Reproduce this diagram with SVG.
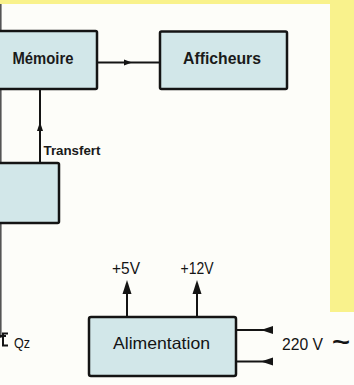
<svg xmlns="http://www.w3.org/2000/svg" width="354" height="385" viewBox="0 0 354 385">
  <defs>
    <style>
      .box { fill: #d2e7e9; stroke: #141414; stroke-width: 2.5; }
      .wire { fill: none; stroke: #141414; stroke-width: 2; }
      .head { fill: #141414; stroke: none; }
      .lblb { font-family: "Liberation Sans", Arial, sans-serif; font-weight: bold; fill: #1a1a1a; }
      .lbl { font-family: "Liberation Sans", Arial, sans-serif; fill: #141414; }
    </style>
  </defs>
  <!-- background -->
  <rect x="0" y="0" width="354" height="385" fill="#fdfdf9"/>
  <rect x="0" y="0" width="354" height="4" fill="#f9f28c"/>
  <rect x="330" y="0" width="24" height="312" fill="#f9f28c"/>
  <line x1="0.8" y1="4" x2="0.8" y2="338" stroke="#555" stroke-width="1.6"/>

  <g id="connectors">
    <line class="wire" x1="97" y1="62.5" x2="160" y2="62.5"/>
    <polygon class="head" points="132,62.5 124,59.5 124,65.5"/>
    <line class="wire" x1="40" y1="89" x2="40" y2="163"/>
    <polygon class="head" points="40,122 37,131 43,131"/>
    <line class="wire" x1="127" y1="317" x2="127" y2="288"/>
    <polygon class="head" points="127,280 122.5,294 131.5,294"/>
    <line class="wire" x1="197" y1="317" x2="197" y2="288"/>
    <polygon class="head" points="197,280 192.5,294 201.5,294"/>
    <line class="wire" x1="236" y1="330" x2="273" y2="330"/>
    <polygon class="head" points="261,330 273,326 273,334"/>
    <line class="wire" x1="236" y1="361.5" x2="273" y2="361.5"/>
    <polygon class="head" points="261,361.5 273,357.5 273,365.5"/>
  </g>

  <g id="memoire">
    <rect class="box" x="-3" y="31" width="100" height="58" rx="1.5"/>
    <text class="lblb" x="43" y="63.5" font-size="17" text-anchor="middle" textLength="61" lengthAdjust="spacingAndGlyphs">Mémoire</text>
  </g>

  <g id="afficheurs">
    <rect class="box" x="160" y="31.5" width="127" height="57.5" rx="1.5"/>
    <text class="lblb" x="222" y="63.5" font-size="17" text-anchor="middle" textLength="78" lengthAdjust="spacingAndGlyphs">Afficheurs</text>
  </g>

  <g id="transfert-label">
    <text class="lblb" x="43.5" y="155" font-size="13" textLength="57" lengthAdjust="spacingAndGlyphs">Transfert</text>
  </g>

  <g id="compteur">
    <rect class="box" x="-3" y="163" width="62" height="60" rx="1.5"/>
  </g>

  <g id="quartz">
    <path d="M8,333.5 H3 V345.5 H8" fill="none" stroke="#141414" stroke-width="2"/>
    <line x1="0" y1="336" x2="6" y2="336" stroke="#141414" stroke-width="2"/>
    <text class="lbl" x="14" y="348" font-size="15" textLength="16" lengthAdjust="spacingAndGlyphs">Qz</text>
  </g>

  <g id="alimentation">
    <rect class="box" x="89" y="317" width="147" height="59" rx="2"/>
    <text class="lbl" x="161.5" y="348.5" font-size="16.5" text-anchor="middle" textLength="97" lengthAdjust="spacingAndGlyphs">Alimentation</text>
  </g>

  <g id="tensions">
    <text class="lbl" x="126" y="273.5" font-size="16" text-anchor="middle" textLength="28" lengthAdjust="spacingAndGlyphs">+5V</text>
    <text class="lbl" x="197" y="273.5" font-size="16" text-anchor="middle" textLength="33" lengthAdjust="spacingAndGlyphs">+12V</text>
    <text class="lbl" x="282" y="350" font-size="16.5" textLength="41" lengthAdjust="spacingAndGlyphs">220 V</text>
    <text class="lbl" x="332" y="350" font-size="24" font-weight="bold" textLength="18" lengthAdjust="spacingAndGlyphs">~</text>
  </g>
</svg>
